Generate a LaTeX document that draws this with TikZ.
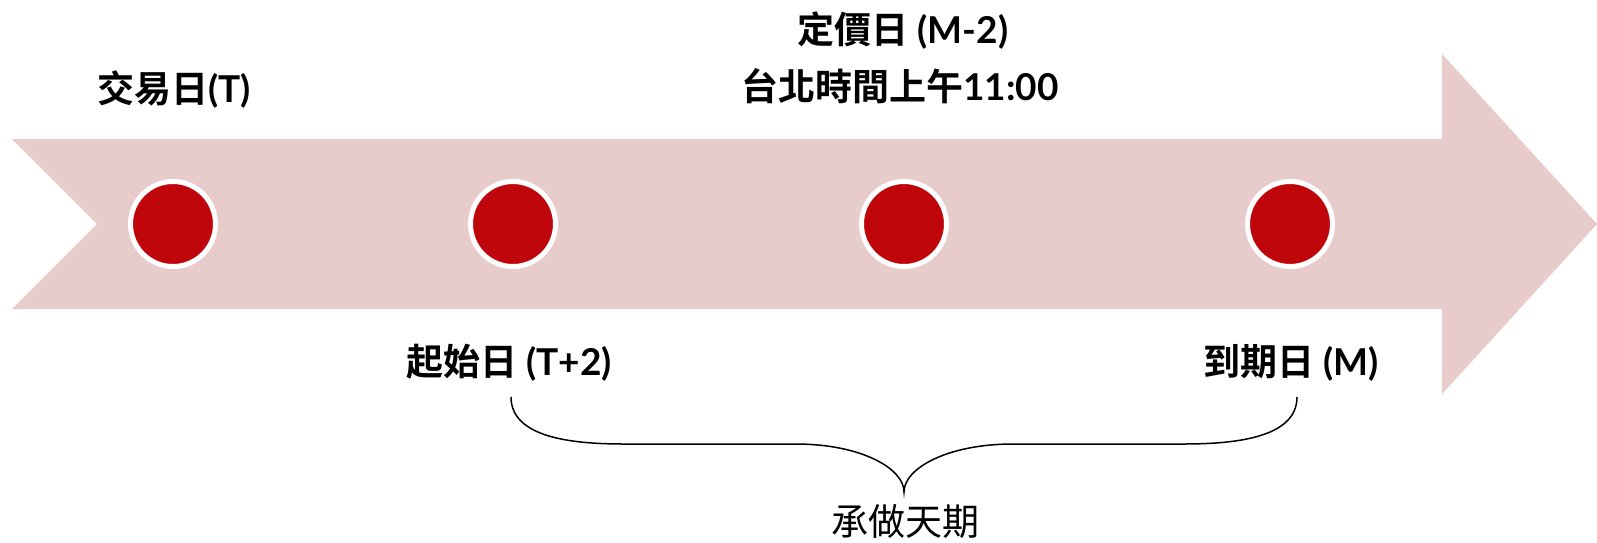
\documentclass[tikz,border=0pt]{standalone}
\usepackage{fontspec}
\setmainfont{Lato}
\newfontfamily\latb{Lato}[UprightFont=* Bold]
\newfontfamily\cjk{Noto Sans CJK TC}
\newfontfamily\cjkb{Noto Sans CJK TC Bold}
\definecolor{arrowpink}{HTML}{E8CBCB}
\definecolor{dotred}{HTML}{BF060B}
\newcommand{\lbl}[2]{{\cjkb #1}{\latb #2}}
\begin{document}
\begin{tikzpicture}[x=1pt,y=-1pt,
  dot/.style={circle,fill=dotred,draw=white,line width=5pt,minimum size=85pt,inner sep=0pt},
  lab/.style={anchor=base,inner sep=0pt,font=\fontsize{37}{44}\selectfont},
  brace/.style={draw=black,line width=1.5pt}]
\useasboundingbox (0,0) rectangle (1597,542);
\fill[arrowpink] (12,139) -- (1442,139) -- (1442,54) -- (1597,224) -- (1442,394) -- (1442,309) -- (12,309) -- (97,224) -- cycle;
\node[dot] (d1) at (173,224) {};
\node[dot] (d2) at (513,224) {};
\node[dot] (d3) at (904,224) {};
\node[dot] (d4) at (1290,224) {};
\node[lab] (t1) at (174,102) {\lbl{交易日}{(T)}};
\node[lab] (t2) at (903,43) {\lbl{定價日}{ (M-2)}};
\node[lab] (t3) at (900,100) {\lbl{台北時間上午}{11:00}};
\node[lab] (t4) at (509,375) {\lbl{起始日}{ (T+2)}};
\node[lab] (t5) at (1291,375) {\lbl{到期日}{ (M)}};
\node[lab] (t6) at (905,535) {{\cjk 承做天期}};
\coordinate (bl) at (511,397);
\coordinate (bt) at (904,492);
\coordinate (br) at (1297,397);
\draw[brace] (bl) .. controls (511,440) and (580,444) .. (625,444) -- (796,444) .. controls (860,444) and (904,468) .. (bt) .. controls (904,468) and (948,444) .. (1013,444) -- (1182,444) .. controls (1228,444) and (1297,440) .. (br);
\end{tikzpicture}
\end{document}
